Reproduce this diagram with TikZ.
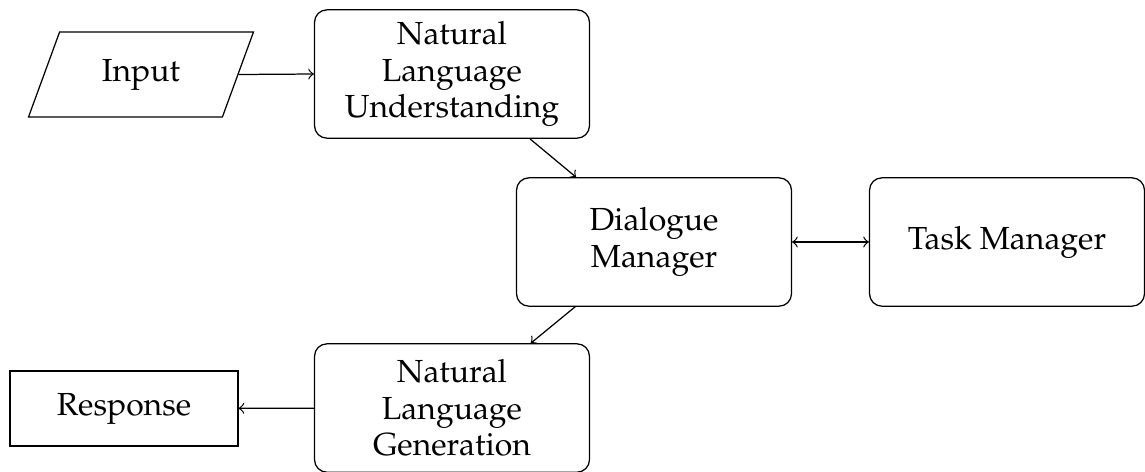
\documentclass[tikz,border=0pt]{standalone}
\usepackage[T1]{fontenc}
\usepackage{mathpazo}
\usetikzlibrary{shapes.geometric}
\begin{document}
\begin{tikzpicture}[x=0.3226pt,y=-0.3226pt,
  every node/.style={font=\fontsize{10.3}{11.8}\selectfont},
  proc/.style={draw,rounded corners=4pt,minimum width=88.7pt,minimum height=41.4pt,align=center,inner sep=0pt},
  io/.style={draw,trapezium,trapezium left angle=70,trapezium right angle=110,trapezium stretches=true,minimum width=72.6pt,minimum height=27.4pt},
  outbox/.style={draw,minimum width=73.5pt,minimum height=24.2pt},
  conn/.style={->},
  biconn/.style={<->}]
\useasboundingbox (0,0) rectangle (1145,471);
\node[io] (input) at (141,74.5) {Input};
\node[proc] (nlu) at (452,74) {Natural\\Language\\Understanding};
\node[proc] (dm) at (654,242) {Dialogue\\Manager};
\node[proc] (tm) at (1007,242) {Task Manager};
\node[proc] (nlg) at (452,408) {Natural\\Language\\Generation};
\node[outbox] (resp) at (124,408.5) {Response};
\draw[conn] (input.east) -- (nlu.west);
\draw[conn] (nlu) -- (dm);
\draw[biconn] (dm) -- (tm);
\draw[conn] (dm) -- (nlg);
\draw[conn] (nlg) -- (resp);
\end{tikzpicture}
\end{document}
